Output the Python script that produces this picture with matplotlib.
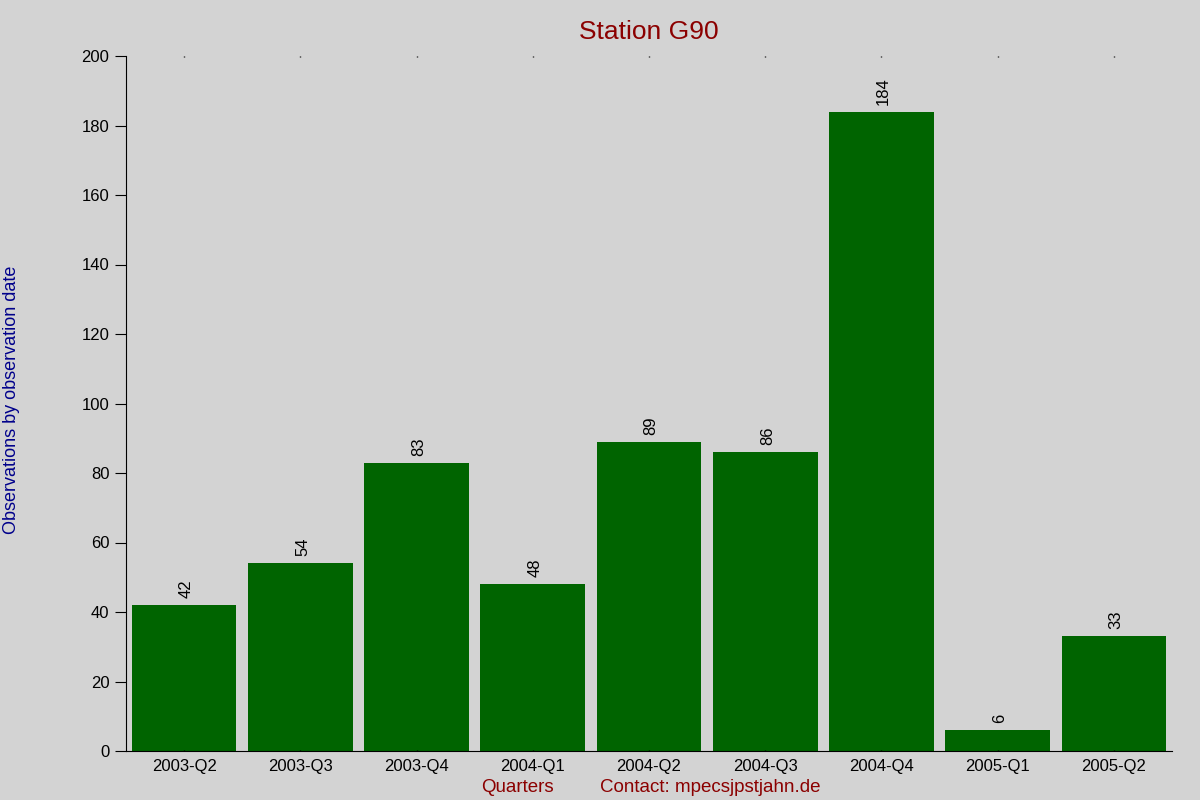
import matplotlib
matplotlib.use("Agg")
import matplotlib.pyplot as plt

categories = ["2003-Q2", "2003-Q3", "2003-Q4", "2004-Q1", "2004-Q2",
              "2004-Q3", "2004-Q4", "2005-Q1", "2005-Q2"]
values = [42, 54, 83, 48, 89, 86, 184, 6, 33]
yticks = [0, 20, 40, 60, 80, 100, 120, 140, 160, 180, 200]

plt.rcParams['font.family'] = ['Liberation Sans', 'DejaVu Sans']
bg = '#d3d3d3'
fig = plt.figure(figsize=(12, 8), dpi=100, facecolor=bg)
ax = fig.add_axes([126/1200, 49/800, (1172-126)/1200, (751-56)/800])
ax.set_facecolor(bg)

x = list(range(len(categories)))
ax.bar(x, values, width=0.9, color='#006400')
for xi, v in zip(x, values):
    ax.annotate(str(v), (xi, v), xytext=(1.5, 5), textcoords='offset points',
                rotation=90, ha='center', va='bottom', fontsize=12, color='black')

ax.set_xlim(-0.5, 8.5)
ax.set_ylim(0, 200)
ax.set_yticks(yticks)
ax.set_xticks(x)
ax.set_xticklabels(categories, fontsize=12)
ax.tick_params(axis='x', length=0, pad=6)
ax.tick_params(axis='y', length=8, labelsize=12, pad=4, direction='out')
ax.tick_params(axis='x', top=True, length=1, width=1, direction='in')
for s in ['top', 'right']:
    ax.spines[s].set_visible(False)

ax.set_title("Station G90", color='#8b0000', fontsize=19, pad=12)
fig.text(12/1200, 0.5, "Observations by observation date", rotation=90,
         color='#00008b', fontsize=13, ha='center', va='center')
fig.text(517/1200, 12/800, "Quarters", color='#8b0000', fontsize=13.5,
         ha='center', va='center')
fig.text(710/1200, 12/800, "Contact: mpecsjpstjahn.de", color='#8b0000',
         fontsize=13.5, ha='center', va='center')

fig.savefig("out.png", dpi=100, facecolor=bg)
